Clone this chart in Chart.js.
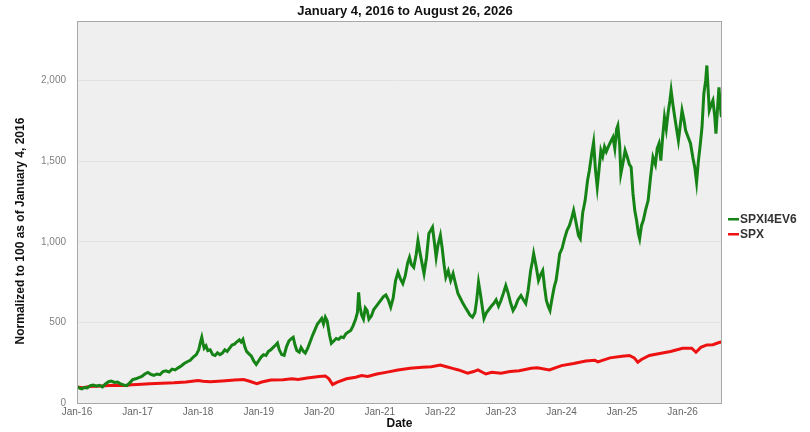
<!DOCTYPE html>
<html>
<head>
<meta charset="utf-8">
<script src="https://cdn.jsdelivr.net/npm/chart.js@4.4.0/dist/chart.umd.min.js"></script>
<style>
html,body{margin:0;padding:0;background:#fff;}
#wrap{width:810px;height:432px;}
</style>
</head>
<body>
<div id="wrap"><canvas id="c" width="810" height="432"></canvas></div>
<script>
const titleText = "January 4, 2016 to August 26, 2026";
const yAxisTitle = "Normalized to 100 as of January 4, 2016";
const xAxisTitle = "Date";
const seriesNames = ["SPXI4EV6", "SPX"];
const xTickYears = [2016, 2017, 2018, 2019, 2020, 2021, 2022, 2023, 2024, 2025, 2026];
const xTickLabels = ["Jan-16","Jan-17","Jan-18","Jan-19","Jan-20","Jan-21","Jan-22","Jan-23","Jan-24","Jan-25","Jan-26"];
const yTickValues = [0, 500, 1000, 1500, 2000];
const yTickLabels = ["0", "500", "1,000", "1,500", "2,000"];

// SPXI4EV6 (date as fractional year, value)
const greenDates = [2016.00,2016.04,2016.08,2016.12,2016.17,2016.22,2016.27,2016.32,2016.37,2016.42,2016.47,2016.52,2016.57,2016.62,2016.67,2016.72,2016.77,2016.82,2016.87,2016.92,2016.97,
2017.02,2017.07,2017.12,2017.17,2017.22,2017.27,2017.32,2017.37,2017.42,2017.47,2017.52,2017.57,2017.62,2017.67,2017.72,2017.77,2017.82,2017.87,2017.92,2017.97,
2018.01,2018.04,2018.06,2018.08,2018.10,2018.13,2018.16,2018.20,2018.24,2018.28,2018.32,2018.36,2018.40,2018.44,2018.48,2018.52,2018.56,2018.60,2018.64,2018.68,2018.71,2018.74,2018.77,2018.80,2018.84,2018.88,2018.92,2018.96,
2019.00,2019.04,2019.08,2019.12,2019.16,2019.20,2019.24,2019.28,2019.31,2019.34,2019.38,2019.42,2019.46,2019.50,2019.54,2019.57,2019.60,2019.63,2019.67,2019.70,2019.74,2019.77,2019.81,2019.85,2019.89,2019.93,2019.97,
2020.01,2020.04,2020.07,2020.10,2020.13,2020.17,2020.20,2020.24,2020.28,2020.32,2020.36,2020.40,2020.44,2020.48,2020.52,2020.56,2020.60,2020.63,2020.65,2020.67,2020.70,2020.73,2020.76,2020.79,2020.82,2020.86,2020.90,2020.94,2020.98,
2021.02,2021.06,2021.10,2021.14,2021.18,2021.22,2021.26,2021.30,2021.34,2021.38,2021.42,2021.46,2021.49,2021.52,2021.56,2021.60,2021.63,2021.66,2021.70,2021.73,2021.77,2021.81,2021.84,2021.87,2021.90,2021.93,2021.96,
2022.00,2022.03,2022.06,2022.09,2022.13,2022.17,2022.21,2022.25,2022.29,2022.33,2022.37,2022.41,2022.45,2022.49,2022.53,2022.57,2022.60,2022.63,2022.66,2022.69,2022.72,2022.76,2022.80,2022.84,2022.88,2022.92,2022.96,
2023.00,2023.04,2023.08,2023.12,2023.16,2023.20,2023.24,2023.28,2023.33,2023.37,2023.41,2023.45,2023.49,2023.52,2023.54,2023.58,2023.62,2023.66,2023.69,2023.72,2023.75,2023.78,2023.81,2023.84,2023.88,2023.91,2023.94,2023.97,
2024.01,2024.05,2024.09,2024.13,2024.17,2024.20,2024.24,2024.28,2024.31,2024.35,2024.39,2024.43,2024.46,2024.50,2024.53,2024.56,2024.59,2024.62,2024.65,2024.68,2024.71,2024.74,2024.77,2024.81,2024.85,2024.88,2024.91,2024.93,2024.96,2024.98,
2025.02,2025.05,2025.09,2025.12,2025.15,2025.18,2025.21,2025.24,2025.27,2025.29,2025.32,2025.35,2025.39,2025.43,2025.47,2025.51,2025.55,2025.58,2025.61,2025.64,2025.67,2025.70,2025.73,2025.76,2025.79,2025.81,2025.84,2025.87,2025.90,2025.93,2025.96,2025.99,
2026.02,2026.05,2026.09,2026.13,2026.17,2026.20,2026.23,2026.26,2026.29,2026.32,2026.35,2026.38,2026.40,2026.42,2026.44,2026.47,2026.50,2026.53,2026.55,2026.58,2026.60,2026.62,2026.64];
const greenValues = [100,92,88,96,94,108,112,104,110,100,118,132,136,128,130,118,112,108,125,145,150,
158,165,180,190,178,172,180,176,195,200,192,210,205,218,230,245,256,265,285,300,
330,380,408,370,340,355,325,330,300,295,312,300,310,330,320,340,360,365,380,392,378,395,350,320,305,290,260,240,
262,285,300,295,320,330,345,360,372,330,300,295,350,385,400,408,360,326,315,345,320,310,340,380,420,455,490,
510,525,490,532,510,420,370,385,400,395,410,405,430,440,450,480,520,560,687,600,545,520,590,575,520,540,580,600,620,
640,660,670,640,595,650,760,811,770,741,790,870,904,860,842,920,1008,940,860,803,900,1051,1070,1090,1000,904,980,
1040,960,860,780,820,760,803,740,679,650,620,594,570,545,532,560,640,749,680,600,524,560,580,600,617,640,600,
636,680,729,680,620,574,600,640,667,640,617,700,820,880,927,850,760,800,822,720,636,600,574,640,720,760,840,927,
960,1020,1070,1100,1150,1194,1120,1040,1020,1180,1256,1380,1442,1550,1618,1450,1339,1450,1566,1530,1590,1560,1587,1620,1649,1580,1700,1721,1600,1423,
1500,1566,1520,1480,1463,1300,1194,1132,1050,1020,1100,1132,1200,1256,1400,1525,1480,1580,1610,1504,1650,1773,1700,1800,1877,1939,1850,1773,1700,1629,1720,1815,
1760,1690,1650,1610,1520,1463,1370,1500,1600,1711,1919,2000,2094,1950,1815,1850,1877,1780,1671,1850,1959,1850,1773];

// SPX
const redDates = [2016.00,2016.10,2016.20,2016.40,2016.60,2016.80,2016.90,2017.00,2017.20,2017.40,2017.60,2017.80,2018.00,2018.08,2018.20,2018.40,2018.60,2018.75,2018.85,2018.97,
2019.05,2019.20,2019.40,2019.55,2019.65,2019.80,2020.00,2020.10,2020.16,2020.22,2020.30,2020.45,2020.60,2020.70,2020.80,2020.95,
2021.10,2021.30,2021.50,2021.70,2021.85,2022.00,2022.10,2022.20,2022.30,2022.45,2022.55,2022.62,2022.75,2022.85,
2023.00,2023.15,2023.30,2023.50,2023.60,2023.80,2024.00,2024.20,2024.40,2024.55,2024.60,2024.80,
2025.00,2025.12,2025.20,2025.26,2025.32,2025.45,2025.60,2025.80,2026.00,2026.15,2026.22,2026.30,2026.40,2026.50,2026.60,2026.64];
const redValues = [100,95,102,105,110,108,113,115,120,122,125,130,140,135,132,137,143,146,135,120,
130,142,145,150,146,155,165,168,150,115,130,150,160,170,165,180,
190,205,215,222,225,235,225,215,205,185,195,205,180,190,
185,195,200,215,218,205,232,245,260,265,255,280,
290,295,280,253,270,295,305,320,340,340,315,345,360,362,375,378];

const seriesColors = ["#168316", "#ee1111"];

const toPoints = (xs, ys) => xs.map((x, i) => ({x: x, y: ys[i]}));

const FONT = "'Liberation Sans', Arial, sans-serif";

const bgPlugin = {
  id: 'bg',
  beforeDraw(chart) {
    const {ctx, chartArea: a} = chart;
    ctx.save();
    ctx.fillStyle = '#efefef';
    ctx.fillRect(a.left, a.top, a.right - a.left, a.bottom - a.top);
    ctx.restore();
  },
  afterDatasetsDraw(chart) {
    const {ctx, chartArea: a} = chart;
    ctx.save();
    ctx.strokeStyle = '#a8a8a8';
    ctx.lineWidth = 1;
    ctx.strokeRect(a.left + 0.5, a.top + 0.5, a.right - a.left - 1, a.bottom - a.top);
    ctx.restore();
  }
};

const labelsPlugin = {
  id: 'sideLabels',
  afterDraw(chart) {
    const {ctx, chartArea: a} = chart;
    ctx.save();
    // y-axis title
    ctx.font = "bold 12px " + FONT;
    ctx.fillStyle = '#111111';
    ctx.textAlign = 'center';
    ctx.textBaseline = 'middle';
    ctx.translate(21, 231);
    ctx.rotate(-Math.PI / 2);
    ctx.fillText(yAxisTitle, 0, 0);
    ctx.restore();

    // legend
    ctx.save();
    ctx.font = "bold 12px " + FONT;
    ctx.textBaseline = 'middle';
    ctx.textAlign = 'left';
    chart.data.datasets.forEach((ds, i) => {
      const y = 219 + i * 15;
      ctx.fillStyle = ds.borderColor;
      ctx.fillRect(728, y - 1, 11, 2.5);
      ctx.fillStyle = '#333333';
      ctx.fillText(ds.label, 740, y + 0.5);
    });
    ctx.restore();
  }
};

new Chart(document.getElementById('c'), {
  type: 'line',
  data: {
    datasets: [
      {label: seriesNames[0], data: toPoints(greenDates, greenValues), borderColor: seriesColors[0], backgroundColor: seriesColors[0], borderWidth: 3, pointRadius: 0, tension: 0, fill: false},
      {label: seriesNames[1], data: toPoints(redDates, redValues), borderColor: seriesColors[1], backgroundColor: seriesColors[1], borderWidth: 3, pointRadius: 0, tension: 0, fill: false}
    ]
  },
  options: {
    responsive: false,
    animation: false,
    devicePixelRatio: 1,
    layout: {padding: {left: 0, right: 0, top: 0, bottom: 0}},
    plugins: {
      legend: {display: false},
      tooltip: {enabled: false},
      title: {
        display: true,
        text: titleText,
        color: '#111111',
        font: {family: FONT, size: 13, weight: 'bold'},
        padding: {top: 3.5, bottom: 1.9}
      }
    },
    scales: {
      x: {
        type: 'linear',
        min: 2016,
        max: 2026.65,
        afterFit(scale) { scale.height = 29; },
        afterBuildTicks(scale) { scale.ticks = xTickYears.map(v => ({value: v})); },
        grid: {display: false, drawTicks: false},
        border: {display: false},
        ticks: {
          autoSkip: false,
          maxRotation: 0,
          padding: 3,
          color: '#666666',
          font: {family: FONT, size: 10},
          callback(value) { const i = xTickYears.indexOf(value); return i >= 0 ? xTickLabels[i] : ''; }
        },
        title: {
          display: true,
          text: xAxisTitle,
          color: '#111111',
          font: {family: FONT, size: 12, weight: 'bold'},
          padding: {top: 0, bottom: 1}
        }
      },
      y: {
        type: 'linear',
        min: 0,
        max: 2370,
        afterFit(scale) { scale.width = 77; },
        afterBuildTicks(scale) { scale.ticks = yTickValues.map(v => ({value: v})); },
        grid: {color: '#e2e2e2', lineWidth: 1, drawTicks: false},
        border: {display: false},
        ticks: {
          padding: 11,
          color: '#808080',
          font: {family: FONT, size: 10},
          callback(value) { const i = yTickValues.indexOf(value); return i >= 0 ? yTickLabels[i] : ''; }
        },
        title: {display: false}
      },
      yRight: {
        type: 'linear',
        position: 'right',
        display: true,
        afterFit(scale) { scale.width = 88; },
        grid: {display: false, drawTicks: false},
        border: {display: false},
        ticks: {display: false}
      }
    }
  },
  plugins: [bgPlugin, labelsPlugin]
});
</script>
</body>
</html>
